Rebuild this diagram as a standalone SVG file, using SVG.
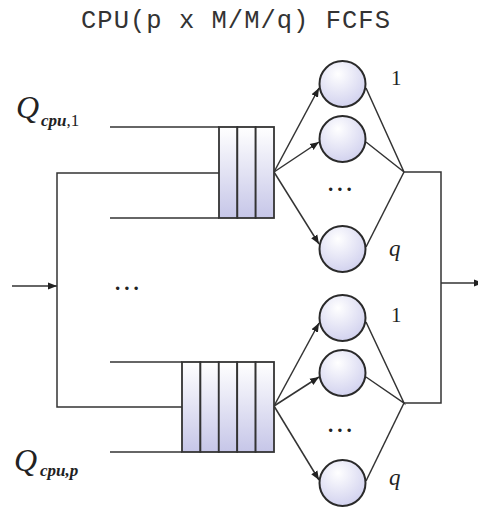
<svg xmlns="http://www.w3.org/2000/svg" width="478" height="510" viewBox="0 0 478 510">
  <style>
    .ln { fill: none; stroke: #333; stroke-width: 1.5; }
    .q { fill: url(#cellFill); stroke: #333; stroke-width: 1.8; }
    .srv { fill: url(#srvFill); stroke: #2a2a2a; stroke-width: 2; }
    .title { font-family: "Liberation Mono", monospace; font-size: 25.5px; fill: #333; }
    .lbl { font-family: "Liberation Serif", serif; fill: #222; }
    .dots { font-family: "Liberation Serif", serif; font-size: 21px; font-weight: bold; fill: #222; letter-spacing: 4px; }
  </style>
  <defs>
    <linearGradient id="cellFill" x1="0" y1="0" x2="0" y2="1">
      <stop offset="0" stop-color="#ffffff"/>
      <stop offset="1" stop-color="#c6c6e8"/>
    </linearGradient>
    <radialGradient id="srvFill" cx="0.42" cy="0.32" r="0.8" fx="0.4" fy="0.28">
      <stop offset="0" stop-color="#ffffff"/>
      <stop offset="1" stop-color="#cbcbec"/>
    </radialGradient>
    <marker id="arr" viewBox="0 0 10 10" refX="10" refY="5" markerWidth="9" markerHeight="9" markerUnits="userSpaceOnUse" orient="auto">
      <path d="M0,1 L10,5 L0,9 Z" fill="#222"/>
    </marker>
  </defs>

  <text class="title" x="81" y="28" textLength="309">CPU(p x M/M/q)  FCFS</text>

  <g id="connectors">
    <!-- input and split bus -->
    <line class="ln" x1="12" y1="286" x2="57" y2="286" marker-end="url(#arr)"/>
    <polyline class="ln" points="219,173 57,173 57,407 182,407"/>
    <!-- queue 1 walls -->
    <line class="ln" x1="110" y1="127" x2="219" y2="127"/>
    <line class="ln" x1="110" y1="218" x2="219" y2="218"/>
    <!-- queue p walls -->
    <line class="ln" x1="110" y1="362" x2="182" y2="362"/>
    <line class="ln" x1="110" y1="452" x2="182" y2="452"/>
    <!-- queue 1 to servers -->
    <line class="ln" x1="274" y1="172" x2="319" y2="88" marker-end="url(#arr)"/>
    <line class="ln" x1="274" y1="172" x2="319" y2="142" marker-end="url(#arr)"/>
    <line class="ln" x1="274" y1="172" x2="319" y2="244" marker-end="url(#arr)"/>
    <polyline class="ln" points="366,88 404,172 366,142"/>
    <line class="ln" x1="366" y1="247" x2="404" y2="172"/>
    <!-- queue p to servers -->
    <line class="ln" x1="274" y1="406" x2="319" y2="323" marker-end="url(#arr)"/>
    <line class="ln" x1="274" y1="406" x2="319" y2="377" marker-end="url(#arr)"/>
    <line class="ln" x1="274" y1="406" x2="319" y2="480" marker-end="url(#arr)"/>
    <polyline class="ln" points="366,322 404,403 366,377"/>
    <line class="ln" x1="366" y1="481" x2="404" y2="403"/>
    <!-- merge and output -->
    <polyline class="ln" points="404,172 441,172 441,403 404,403"/>
    <line class="ln" x1="441" y1="283" x2="483" y2="283" marker-end="url(#arr)"/>
  </g>

  <g id="queue1">
    <rect class="q" x="219" y="127" width="18.33" height="91"/>
    <rect class="q" x="237.33" y="127" width="18.33" height="91"/>
    <rect class="q" x="255.67" y="127" width="18.33" height="91"/>
  </g>
  <g id="queueP">
    <rect class="q" x="182" y="362" width="18.4" height="90"/>
    <rect class="q" x="200.4" y="362" width="18.4" height="90"/>
    <rect class="q" x="218.8" y="362" width="18.4" height="90"/>
    <rect class="q" x="237.2" y="362" width="18.4" height="90"/>
    <rect class="q" x="255.6" y="362" width="18.4" height="90"/>
  </g>

  <g id="server1-1"><circle class="srv" cx="342.5" cy="84" r="23"/></g>
  <g id="server1-2"><circle class="srv" cx="342.5" cy="139" r="23"/></g>
  <g id="server1-q"><circle class="srv" cx="342.5" cy="249" r="23"/></g>
  <g id="serverP-1"><circle class="srv" cx="342.5" cy="318" r="23"/></g>
  <g id="serverP-2"><circle class="srv" cx="342.5" cy="373" r="23"/></g>
  <g id="serverP-q"><circle class="srv" cx="342.5" cy="483" r="23"/></g>

  <g id="labels">
    <text class="lbl" x="16" y="118" font-size="32" font-style="italic">Q</text>
    <text class="lbl" x="41" y="126" font-size="17"><tspan font-style="italic" font-weight="bold">cpu</tspan>,1</text>
    <text class="lbl" x="14" y="471" font-size="32" font-style="italic">Q</text>
    <text class="lbl" x="40" y="476" font-size="17" font-style="italic" font-weight="bold">cpu,p</text>
    <text class="lbl" x="391" y="85" font-size="21">1</text>
    <text class="lbl" x="389" y="256" font-size="23" font-style="italic">q</text>
    <text class="lbl" x="391" y="322" font-size="21">1</text>
    <text class="lbl" x="389" y="485" font-size="23" font-style="italic">q</text>
    <text class="dots" x="115" y="290">...</text>
    <text class="dots" x="328" y="191">...</text>
    <text class="dots" x="328" y="432">...</text>
  </g>
</svg>
